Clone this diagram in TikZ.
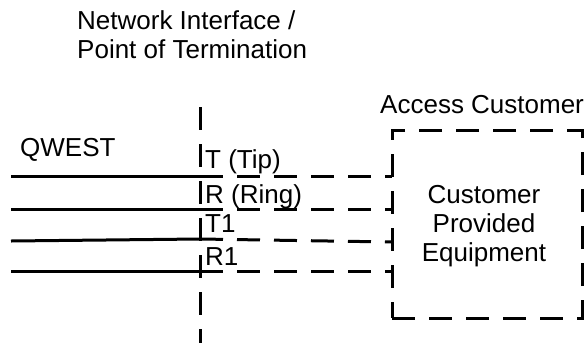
\documentclass[tikz,border=0pt]{standalone}
\usepackage{fontspec}
\setmainfont{Liberation Sans}
\begin{document}
\begin{tikzpicture}[x=1pt,y=-1pt,
  wire/.style={line width=3pt},
  dwire/.style={line width=3pt, dash pattern=on 23pt off 14pt},
  lbl/.style={anchor=base west, inner sep=0pt, font=\fontsize{26}{29}\selectfont},
]
\useasboundingbox (0,0) rectangle (588,343);
% texts (multi-line nodes: base anchor is the last line)
\node[lbl, align=left] (nid) at (77,58) {Network Interface /\\Point of Termination};
\node[lbl] (qwest) at (20,156) {QWEST};
\node[lbl] (access) at (380,113) {Access Customer};
% customer box
\node[draw, dwire, minimum width=190pt, minimum height=188pt, inner sep=0pt] (cpe) at (487,224) {};
\node[lbl, anchor=base, align=center] (cpetext) at (484,261) {Customer\\Provided\\Equipment};
% demarcation line
\coordinate (vtop) at (200,107);
\coordinate (vbot) at (200,343);
\draw[dwire] (vtop) -- (vbot);
% wire coordinates
\coordinate (Ta) at (11,176);  \coordinate (Tb) at (200,176);  \coordinate (Tc) at (392,176);
\coordinate (Ra) at (11,209);  \coordinate (Rb) at (200,209);  \coordinate (Rc) at (392,209);
\coordinate (Ua) at (11,241);  \coordinate (Ub) at (200,239);  \coordinate (Uc) at (392,242);
\coordinate (Sa) at (11,271);  \coordinate (Sb) at (200,271);  \coordinate (Sc) at (392,271);
\foreach \w in {T,R,U,S}{
  \draw[wire] (\w a) -- (\w b);
  \draw[dwire] (\w b) -- (\w c);
}
% wire labels
\node[lbl] (ltip) at (205,168) {T (Tip)};
\node[lbl] (lring) at (205,203) {R (Ring)};
\node[lbl] (lt1) at (205,232) {T1};
\node[lbl] (lr1) at (205,265) {R1};
\end{tikzpicture}
\end{document}
